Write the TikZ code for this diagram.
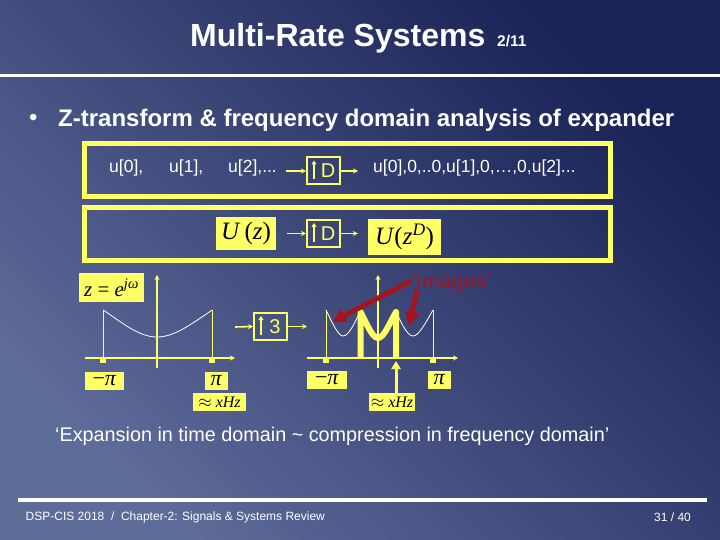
\documentclass[tikz,border=0pt]{standalone}
\usepackage{fontspec}
\setmainfont{Liberation Sans}
\newfontfamily\serif{Liberation Serif}
\usetikzlibrary{arrows.meta}
\definecolor{bgdark}{RGB}{26,34,86}
\definecolor{bglight}{RGB}{94,108,154}
\definecolor{ylw}{RGB}{255,255,102}
\definecolor{imgred}{RGB}{165,20,30}
\begin{document}
\begin{tikzpicture}[x=1pt,y=-1pt,
  frame/.style={draw=ylw,line width=5pt,inner sep=0pt},
  dbox/.style={draw=ylw,line width=2pt,minimum width=33pt,minimum height=27pt,inner sep=0pt,text=ylw,font=\fontsize{20}{20}\selectfont},
  hl/.style={fill=ylw,inner sep=0pt,text=black,font=\serif\fontsize{22}{24}\selectfont},
  sig/.style={draw=ylw,line width=1.6pt,-{Stealth[length=5pt,width=5pt]}},
  uparr/.style={draw=ylw,line width=1.6pt,-{Triangle[length=4pt,width=5pt]}},
  axisl/.style={draw=ylw,line width=1.5pt,-{Stealth[length=5pt,width=5pt]}},
  thinl/.style={draw=ylw,line width=1pt},
  curvel/.style={draw=white,line width=0.8pt},
  tick/.style={fill=ylw},
  redarr/.style={draw=imgred,line width=5pt,-{Triangle[length=14pt,width=14pt]}},
  txt/.style={text=white,font=\fontsize{17.5}{20}\selectfont,anchor=base west,inner sep=0pt},
]
\useasboundingbox (0,0) rectangle (720,540);
\shade[top color=bgdark,bottom color=bglight,shading angle=-45] (0,0) rectangle (720,540);

% title
\node[anchor=base west,inner sep=0pt,text=white,font=\bfseries\fontsize{32}{36}\selectfont] (title) at (190,47) {Multi-Rate Systems};
\node[anchor=base west,inner sep=0pt,text=white,font=\bfseries\fontsize{15.5}{18}\selectfont] (part) at (497,47) {2/11};
\draw[white,line width=3.5pt] (0,75.5) -- (720,75.5);

% bullet
\node[anchor=base west,inner sep=0pt,text=white,font=\fontsize{24}{26}\selectfont] (bul) at (29,126) {•};
\node[anchor=base west,inner sep=0pt,text=white,font=\bfseries\fontsize{24}{28}\selectfont] (head) at (58,127) {Z-transform \& frequency domain analysis of expander};

% frames
\node[frame,minimum width=526pt,minimum height=53pt] (row1) at (347.5,170) {};
\node[frame,minimum width=526pt,minimum height=53pt] (row2) at (347.5,234) {};

% row 1
\node[txt] (u0) at (109,173) {u[0],};
\node[txt] (u1) at (169,173) {u[1],};
\node[txt] (u2) at (228,173) {u[2],...};
\node[dbox] (d1) at (323.5,171) {\hspace*{9pt}D};
\node[txt] (out1) at (373,173) {u[0],0,..0,u[1],0,…,0,u[2]...};
\draw[sig,shorten <=9pt] (u2.east |- d1.west) -- (d1.west);
\draw[sig,shorten >=15pt] (d1.east) -- (d1.east -| out1.west);
\draw[uparr] ([xshift=8pt,yshift=6pt]d1.south west) -- ([xshift=8pt,yshift=-4pt]d1.north west);

% row 2
\node[hl,minimum width=60pt,minimum height=33pt,font=\serif\fontsize{25}{28}\selectfont] (uz) at (246,233.5) {\textit{U}\,(\textit{z})};
\node[dbox] (d2) at (323.5,233.5) {\hspace*{9pt}D};
\node[hl,minimum width=73pt,minimum height=36pt,font=\serif\fontsize{25}{28}\selectfont] (uzd) at (404.5,237) {\textit{U}(\textit{z}\textsuperscript{\textit{D}})};
\draw[sig,shorten <=11pt] (uz.east) -- (d2.west);
\draw[sig,shorten >=10pt] (d2.east) -- (d2.east -| uzd.west);
\draw[uparr] ([xshift=8pt,yshift=6pt]d2.south west) -- ([xshift=8pt,yshift=-4pt]d2.north west);

% left spectrum
\node[hl,minimum width=65pt,minimum height=29pt,font=\serif\fontsize{21}{24}\selectfont] (zej) at (111.5,287.5) {\textit{z} = \textit{e}\textsuperscript{\textit{jω}}};
\draw[axisl] (85,358) -- (235,358);
\draw[axisl] (157,368) -- (157,275);
\fill[tick] (100,358) rectangle (106,363);
\fill[tick] (209,358) rectangle (215,363);
\draw[thinl] (103.3,358) -- (103.3,310);
\draw[thinl] (212.3,358) -- (212.3,310);
\draw[curvel] (103.3,310) .. controls (125,325) and (140,337) .. (157,337) .. controls (174,337) and (190,325) .. (212.3,310);
\node[hl,minimum width=39pt,minimum height=18pt] (mpi1) at (104.5,380.5) {−\textit{π}};
\node[hl,minimum width=23pt,minimum height=18pt] (pi1) at (216.5,380.5) {\textit{π}};
\node[hl,minimum width=53pt,minimum height=18pt,font=\serif\fontsize{16}{18}\selectfont] (hz1) at (219.5,402) {$\approx$ \textit{xHz}};

% expander 3
\coordinate (a3) at (235,327);
\coordinate (b3) at (307,326.5);
\node[dbox] (e3) at (270.5,326.5) {\hspace*{9pt}3};
\draw[sig] (a3) -- (e3.west);
\draw[sig] (e3.east) -- (b3);
\draw[uparr] ([xshift=8pt,yshift=6pt]e3.south west) -- ([xshift=8pt,yshift=-4pt]e3.north west);

% right spectrum
\draw[axisl] (307,358) -- (458,358);
\draw[axisl] (378,368) -- (378,275);
\fill[tick] (323,358) rectangle (329,363);
\fill[tick] (430,358) rectangle (436,363);
\draw[thinl] (326,358) -- (326,310);
\draw[thinl] (433,358) -- (433,310);
\draw[curvel] (326,310) .. controls (332,322) and (338,336) .. (343,336) .. controls (349,336) and (355,322) .. (360,312);
\draw[curvel] (396,312) .. controls (401,322) and (407,336) .. (413,336) .. controls (419,336) and (426,322) .. (433,310);
\draw[draw=ylw,line width=6pt,line join=round] (360.5,358) -- (360.5,312) .. controls (366,322) and (372,338) .. (378,338) .. controls (384,338) and (390,322) .. (396,312) -- (396,358);
\node[hl,minimum width=40pt,minimum height=18pt] (mpi2) at (327,380) {−\textit{π}};
\node[hl,minimum width=23pt,minimum height=18pt] (pi2) at (439.5,380) {\textit{π}};
\node[hl,minimum width=46pt,minimum height=18pt,font=\serif\fontsize{16}{18}\selectfont] (hz2) at (392,402) {$\approx$ \textit{xHz}};
\coordinate (tip) at (396,361);
\draw[draw=ylw,line width=3pt,-{Triangle[length=8pt,width=9pt]}] (hz2.north -| tip) -- (tip);

% images
\node[anchor=base west,inner sep=0pt,text=imgred,font=\fontsize{21.5}{24}\selectfont] (img) at (412,288.5) {`images'};
\coordinate (r1) at (332,322);
\coordinate (r2) at (409,326);
\draw[redarr] ([xshift=-1pt,yshift=7.5pt]img.base west) -- (r1);
\draw[redarr] ([xshift=5pt,yshift=-1.5pt]img.base west) -- (r2);

% conclusion
\node[anchor=base west,inner sep=0pt,text=white,font=\fontsize{19.8}{22}\selectfont] (concl) at (55,441) {`Expansion in time domain \textasciitilde{} compression in frequency domain’};

% footer
\draw[white,line width=4pt] (18,500) -- (707,500);
\node[anchor=base west,inner sep=0pt,text=white,font=\fontsize{12}{13}\selectfont] (foot) at (25.5,520) {DSP-CIS 2018 \ / \ Chapter-2: Signals \& Systems Review};
\node[anchor=base west,inner sep=0pt,text=white,font=\fontsize{12}{13}\selectfont] (pg) at (654,521.5) {31 / 40};
\end{tikzpicture}
\end{document}
